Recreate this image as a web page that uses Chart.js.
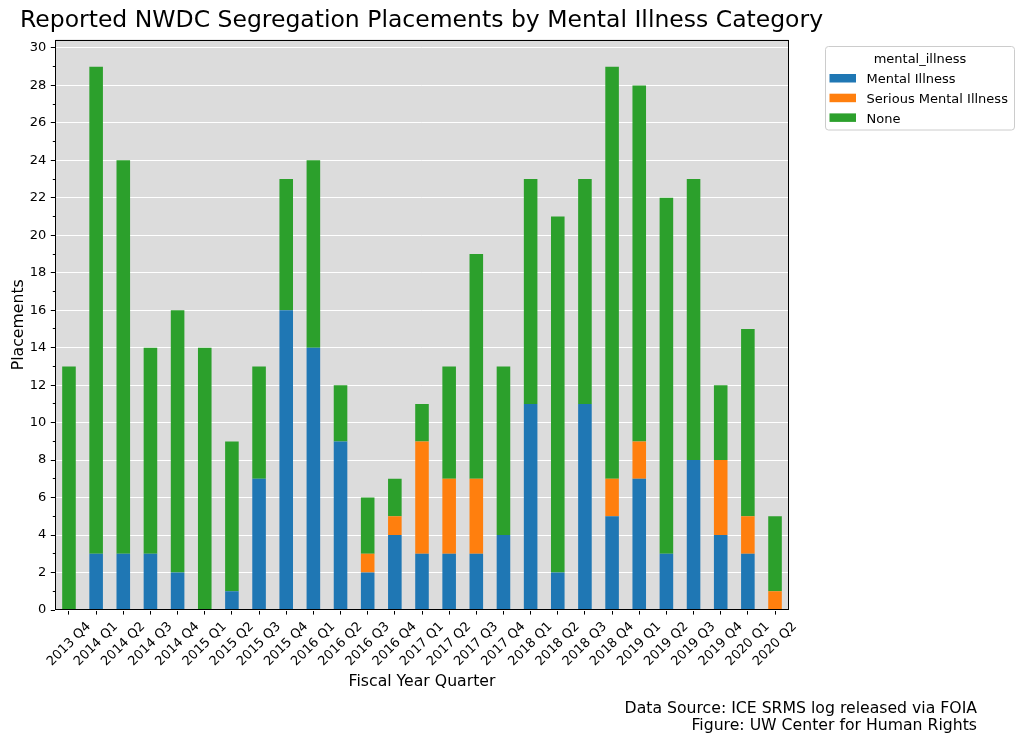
<!DOCTYPE html>
<html><head><meta charset="utf-8">
<script src="https://cdn.jsdelivr.net/npm/chart.js@4"></script>
<style>html,body{margin:0;padding:0;background:#fff}</style>
</head><body>
<canvas id="c" width="1024" height="743" style="width:1024px;height:743px;display:block"></canvas>
<script>
// ---- data ----
const categories = ["2013 Q4","2014 Q1","2014 Q2","2014 Q3","2014 Q4","2015 Q1","2015 Q2","2015 Q3","2015 Q4",
  "2016 Q1","2016 Q2","2016 Q3","2016 Q4","2017 Q1","2017 Q2","2017 Q3","2017 Q4",
  "2018 Q1","2018 Q2","2018 Q3","2018 Q4","2019 Q1","2019 Q2","2019 Q3","2019 Q4","2020 Q1","2020 Q2"];
const mentalIllness        = [0,3,3,3,2,0,1,7,16,14,9,2,4,3,3,3,4,11,2,11,5,7,3,8,4,3,0];
const seriousMentalIllness = [0,0,0,0,0,0,0,0,0,0,0,1,1,6,4,4,0,0,0,0,2,2,0,0,4,2,1];
const noneValues           = [13,26,21,11,14,14,8,6,7,10,3,3,2,2,6,12,9,12,19,12,22,19,19,15,4,10,4];
const seriesLabels = ["Mental Illness","Serious Mental Illness","None"];
const seriesColors = ["#1f77b4","#ff7f0e","#2ca02c"];
const yMin = 0, yMax = 30.45, yMajorStep = 2, yMinorStep = 1;
const titleText = "Reported NWDC Segregation Placements by Mental Illness Category";
const legendTitle = "mental_illness";
const footerLines = ["Data Source: ICE SRMS log released via FOIA","Figure: UW Center for Human Rights"];

Chart.defaults.font.family = "'DejaVu Sans', sans-serif";
Chart.defaults.color = "#000";

const FONT = "'DejaVu Sans', sans-serif";

const decor = {
  id: 'decor',
  beforeDraw(chart) {
    const {ctx, chartArea: a} = chart;
    ctx.save();
    ctx.fillStyle = '#dcdcdc';
    ctx.fillRect(a.left, a.top, a.right - a.left, a.bottom - a.top);
    ctx.restore();
  },
  afterDatasetsDraw(chart) {
    const {ctx, chartArea: a} = chart;
    ctx.save();
    ctx.strokeStyle = '#000';
    ctx.lineWidth = 1;
    const l = Math.round(a.left) + 0.5, r = Math.round(a.right) - 0.5;
    const t = Math.round(a.top) + 0.5, b = Math.round(a.bottom) - 0.5;
    ctx.strokeRect(l, t, r - l, b - t);
    ctx.restore();
  },
  afterDraw(chart) {
    const ctx = chart.ctx;
    ctx.save();
    // title
    ctx.fillStyle = '#000';
    ctx.font = "23.5px " + FONT;
    ctx.textAlign = 'left';
    ctx.textBaseline = 'alphabetic';
    ctx.fillText(titleText, 20, 27.2);
    // footer
    ctx.font = "15.7px " + FONT;
    ctx.textAlign = 'right';
    ctx.fillText(footerLines[0], 977, 712.7);
    ctx.fillText(footerLines[1], 977, 730.2);
    // legend
    const bx = 825.5, by = 46.5, bw = 189, bh = 83.5;
    ctx.beginPath();
    ctx.roundRect(bx, by, bw, bh, 3);
    ctx.fillStyle = '#fff';
    ctx.fill();
    ctx.strokeStyle = '#cccccc';
    ctx.lineWidth = 1;
    ctx.stroke();
    ctx.fillStyle = '#000';
    ctx.font = "13px " + FONT;
    ctx.textAlign = 'center';
    ctx.fillText(legendTitle, bx + bw / 2, 63.2);
    ctx.textAlign = 'left';
    chart.data.datasets.forEach((ds, i) => {
      const base = 83.3 + i * 19.7;
      ctx.fillStyle = ds.backgroundColor;
      ctx.fillRect(829.5, base - 9.3, 26.5, 8.5);
      ctx.fillStyle = '#000';
      ctx.fillText(ds.label, 866.5, base);
    });
    ctx.restore();
  }
};

const datasetValues = [mentalIllness, seriousMentalIllness, noneValues];

new Chart(document.getElementById('c'), {
  type: 'bar',
  data: {
    labels: categories,
    datasets: datasetValues.map((vals, i) => ({
      label: seriesLabels[i],
      data: vals,
      backgroundColor: seriesColors[i],
      borderWidth: 0,
      barPercentage: 0.5,
      categoryPercentage: 1.0,
      yAxisID: 'y'
    }))
  },
  options: {
    responsive: false,
    animation: false,
    devicePixelRatio: 1,
    layout: { padding: { left: 0, right: 235.4, top: 39.5, bottom: 0 } },
    plugins: { legend: { display: false }, tooltip: { enabled: false }, title: { display: false } },
    scales: {
      x: {
        stacked: true,
        offset: true,
        border: { display: false },
        grid: { display: true, drawOnChartArea: false, tickLength: 4.6, tickColor: '#000', offset: false },
        ticks: { autoSkip: false, minRotation: 45, maxRotation: 45, padding: 4.4, labelOffset: 19.7,
                 color: '#000', font: { size: 13, family: FONT } },
        title: { display: true, text: 'Fiscal Year Quarter', color: '#000',
                 font: { size: 15.7, family: FONT }, padding: { top: 0, bottom: 51.3 } },
        afterFit(scale) { scale.height = 133; }
      },
      y: {
        stacked: true,
        position: 'left',
        weight: 1,
        min: yMin, max: yMax,
        border: { display: false },
        grid: { color: '#ffffff', lineWidth: 1, tickLength: 4.6, tickColor: '#000' },
        ticks: { stepSize: yMajorStep, includeBounds: false, padding: 4.6, color: '#000',
                 font: { size: 13, family: FONT } },
        title: { display: true, text: 'Placements', color: '#000',
                 font: { size: 15.7, family: FONT }, padding: { top: 9.5, bottom: 0 } },
        afterFit(scale) { scale.width = 55.4; }
      },
      yMinor: {
        position: 'left',
        weight: 0,
        min: yMin, max: yMax,
        border: { display: false },
        grid: { drawOnChartArea: false, tickLength: 2.6, tickColor: '#000', lineWidth: 1 },
        ticks: { display: false, stepSize: yMinorStep, includeBounds: false },
        afterFit(scale) { scale.width = 0; }
      }
    }
  },
  plugins: [decor]
});
</script>
</body></html>
